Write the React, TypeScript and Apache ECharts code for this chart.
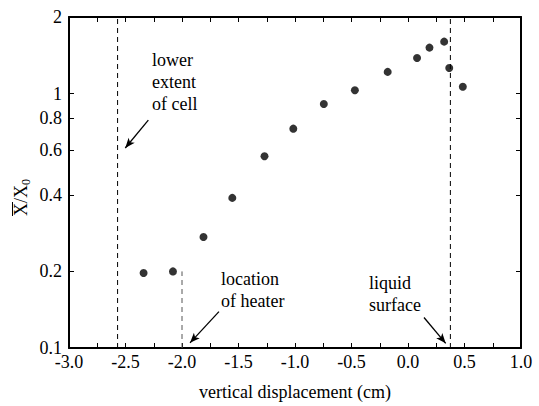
import React, { useEffect, useRef } from "react";
import * as echarts from "echarts";

const displacement = [-2.34, -2.08, -1.81, -1.555, -1.27, -1.015, -0.745, -0.47, -0.18, 0.08, 0.19, 0.32, 0.365, 0.485];
const ratio = [0.197, 0.2, 0.273, 0.389, 0.567, 0.728, 0.91, 1.031, 1.217, 1.379, 1.516, 1.6, 1.261, 1.064];
const yTicks = [0.1, 0.2, 0.4, 0.6, 0.8, 1, 2];
const xMin = -3;
const xMax = 1;
const yMin = 0.1;
const yMax = 2;
const cellX = -2.57;
const heaterX = -2.0;
const heaterTop = 0.2;
const surfaceX = 0.375;
const arrowCell = [[-2.298, 0.786], [-2.502, 0.611]];
const arrowHeater = [[-1.673, 0.139], [-1.929, 0.1048]];
const arrowSurface = [[0.1416, 0.1318], [0.3336, 0.1043]];

const FF = "Liberation Serif";

function arrowLine(a: number[][]) {
  return [
    { coord: a[0], symbol: "none" },
    { coord: a[1], symbol: "arrow", symbolSize: [6, 10] },
  ];
}

function txt(x: number, y: number, text: string, size = 18, family = FF) {
  return {
    type: "text",
    x,
    y,
    silent: true,
    style: {
      text,
      fontFamily: family,
      fontSize: size,
      fill: "#000",
      textAlign: "left",
      textVerticalAlign: "top",
      align: "left",
      verticalAlign: "top",
      lineHeight: 22,
    },
  };
}

export default function App() {
  const ref = useRef<HTMLDivElement>(null);
  useEffect(() => {
    if (!ref.current) return;
    const chart = echarts.init(ref.current, undefined, { renderer: "svg" });
    const axisLine = { show: true, onZero: false, lineStyle: { color: "#000", width: 2 } };
    const xCommon = {
      type: "value",
      min: xMin,
      max: xMax,
      interval: 0.5,
      splitLine: { show: false },
      axisLine,
      axisTick: { show: true, inside: true, length: 5, lineStyle: { color: "#000", width: 1 } },
      minorTick: { show: true, splitNumber: 2, length: 5, lineStyle: { color: "#000", width: 1 } },
    };
    const yCommon = {
      type: "log",
      logBase: 10,
      min: yMin,
      max: yMax,
      splitLine: { show: false },
      minorTick: { show: false },
      axisLine,
      axisTick: { show: true, inside: true, length: 5, customValues: yTicks, lineStyle: { color: "#000", width: 1 } },
    };
    chart.setOption({
      animation: false,
      textStyle: { fontFamily: FF },
      grid: { left: 69, right: 18, top: 17, bottom: 53, containLabel: false },
      xAxis: [
        {
          ...xCommon,
          position: "bottom",
          name: "vertical displacement (cm)",
          nameLocation: "middle",
          nameGap: 35,
          nameTextStyle: { fontFamily: FF, fontSize: 18, color: "#000" },
          axisLabel: {
            show: true,
            margin: 5,
            fontFamily: FF,
            fontSize: 18,
            color: "#000",
            formatter: (v: number) => v.toFixed(1),
          },
        },
        { ...xCommon, position: "top", axisLabel: { show: false } },
      ],
      yAxis: [
        {
          ...yCommon,
          position: "left",
          axisLabel: {
            show: true,
            margin: 7,
            fontFamily: FF,
            fontSize: 18,
            color: "#000",
            customValues: yTicks,
            formatter: (v: number) => String(+v.toPrecision(3)),
          },
        },
        { ...yCommon, position: "right", axisLabel: { show: false } },
      ],
      series: [
        {
          type: "line",
          data: [[cellX, yMin], [cellX, yMax]],
          symbol: "none",
          silent: true,
          lineStyle: { color: "#000", width: 1, type: [5, 4] },
        },
        {
          type: "line",
          data: [[surfaceX, yMin], [surfaceX, yMax]],
          symbol: "none",
          silent: true,
          lineStyle: { color: "#000", width: 1, type: [5, 4] },
        },
        {
          type: "line",
          data: [[heaterX, yMin], [heaterX, heaterTop]],
          symbol: "none",
          silent: true,
          lineStyle: { color: "#555", width: 1, type: [5, 4] },
        },
        {
          type: "scatter",
          data: displacement.map((x, i) => [x, ratio[i]]),
          symbol: "circle",
          symbolSize: 8,
          itemStyle: { color: "#000" },
          silent: true,
          markLine: {
            silent: true,
            animation: false,
            label: { show: false },
            lineStyle: { color: "#000", width: 1.3, type: "solid" },
            data: [arrowLine(arrowCell), arrowLine(arrowHeater), arrowLine(arrowSurface)],
          },
        },
      ],
      graphic: [
        txt(152, 49, "lower\nextent\nof cell"),
        txt(221, 268, "location\nof heater"),
        txt(369, 272, "liquid\nsurface"),
        {
          type: "group",
          x: 21,
          y: 199,
          rotation: Math.PI / 2,
          silent: true,
          children: [
            {
              type: "text",
              x: -17,
              y: 0,
              style: {
                text: "X/X",
                fontFamily: FF,
                fontSize: 18,
                fill: "#000",
                textAlign: "left",
                textVerticalAlign: "middle",
                align: "left",
                verticalAlign: "middle",
              },
            },
            {
              type: "text",
              x: 14,
              y: 5,
              style: {
                text: "0",
                fontFamily: FF,
                fontSize: 12,
                fill: "#000",
                textAlign: "left",
                textVerticalAlign: "middle",
                align: "left",
                verticalAlign: "middle",
              },
            },
            {
              type: "line",
              shape: { x1: -17, y1: -8.5, x2: -3, y2: -8.5 },
              style: { stroke: "#000", lineWidth: 1 },
            },
          ],
        },
      ],
    });
    return () => chart.dispose();
  }, []);
  return <div ref={ref} style={{ position: "absolute", left: 0, top: 0, width: 539, height: 406 }} />;
}
